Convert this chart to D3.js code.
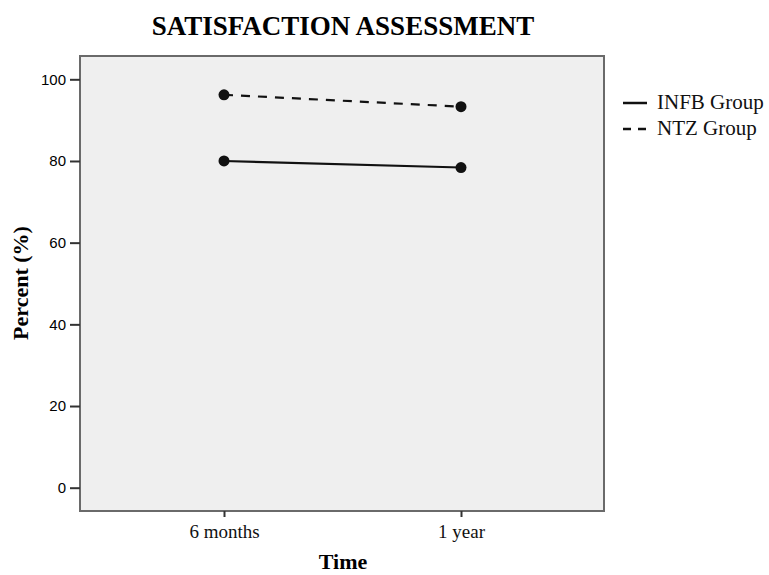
<!DOCTYPE html>
<html>
<head>
<meta charset="utf-8">
<script src="https://cdn.jsdelivr.net/npm/d3@7"></script>
<style>
  body { margin: 0; background: #fff; }
  svg { display: block; }
</style>
</head>
<body>
<svg id="chart" width="769" height="575"></svg>
<script>
// data
var timePoints = ["6 months", "1 year"];
var seriesNames = ["INFB Group", "NTZ Group"];
var infbValues = [80.0, 78.4];
var ntzValues = [96.2, 93.3];
var yTicks = [0, 20, 40, 60, 80, 100];

var chart = {};
chart.margins = { top: 56, left: 80, right: 165, bottom: 64 };
chart.width = 769 - chart.margins.left - chart.margins.right;
chart.height = 575 - chart.margins.top - chart.margins.bottom;

var svg = d3.select("#chart");
var g = svg.append("g")
    .attr("transform", `translate(${chart.margins.left}, ${chart.margins.top})`);

// scales
var x = d3.scalePoint().domain(timePoints).range([144, 381]);
var y = d3.scaleLinear().domain([0, 100]).range([431.7, 23.3]);

// plot background
g.append("rect")
    .attr("x", 0).attr("y", 0)
    .attr("width", chart.width).attr("height", chart.height)
    .style("fill", "#efefef")
    .style("stroke", "#6a6a6a")
    .style("stroke-width", 2);

// y axis
var yAxis = g.append("g")
    .call(d3.axisLeft(y).tickValues(yTicks).tickSize(10).tickPadding(4).tickSizeOuter(0));
yAxis.select(".domain").remove();
yAxis.selectAll("line").style("stroke", "#333").style("stroke-width", 2);
yAxis.selectAll("text")
    .attr("font-family", "'Liberation Sans', Arial, sans-serif")
    .attr("font-size", 15)
    .style("font-family", "'Liberation Sans', Arial, sans-serif")
    .style("font-size", "15px")
    .style("fill", "#000");

// x axis
var xAxis = g.append("g")
    .attr("transform", `translate(0, ${chart.height})`)
    .call(d3.axisBottom(x).tickSize(6).tickPadding(8).tickSizeOuter(0));
xAxis.select(".domain").remove();
xAxis.selectAll("line").style("stroke", "#333").style("stroke-width", 2);
xAxis.selectAll("text")
    .style("font-family", "'Liberation Serif', 'Times New Roman', serif")
    .style("font-size", "19px")
    .style("fill", "#111");

// lines + points
var series = [
    { name: seriesNames[0], values: infbValues, dash: null },
    { name: seriesNames[1], values: ntzValues, dash: "9,8" }
];
var line = d3.line()
    .x((d, i) => x(timePoints[i]))
    .y((d) => y(d));

series.forEach((s) => {
    g.append("path")
        .datum(s.values)
        .attr("d", line)
        .style("fill", "none")
        .style("stroke", "#111")
        .style("stroke-width", 2.2)
        .style("stroke-dasharray", s.dash);
    g.selectAll(null)
        .data(s.values)
        .enter()
        .append("circle")
        .attr("cx", (d, i) => x(timePoints[i]))
        .attr("cy", (d) => y(d))
        .attr("r", 5.5)
        .style("fill", "#111");
});

// title
svg.append("text")
    .attr("x", 343).attr("y", 35)
    .attr("text-anchor", "middle")
    .style("font-family", "'Liberation Serif', 'Times New Roman', serif")
    .style("font-weight", "bold")
    .style("font-size", "27px")
    .text("SATISFACTION ASSESSMENT");

// axis titles
svg.append("text")
    .attr("x", 343).attr("y", 569)
    .attr("text-anchor", "middle")
    .style("font-family", "'Liberation Serif', 'Times New Roman', serif")
    .style("font-weight", "bold")
    .style("font-size", "22px")
    .text("Time");

svg.append("text")
    .attr("transform", "translate(28, 283) rotate(-90)")
    .attr("text-anchor", "middle")
    .style("font-family", "'Liberation Serif', 'Times New Roman', serif")
    .style("font-weight", "bold")
    .style("font-size", "22px")
    .text("Percent (%)");

// legend
var legend = svg.append("g").attr("transform", "translate(623, 103)");
series.forEach((s, i) => {
    var row = legend.append("g").attr("transform", `translate(0, ${i * 26})`);
    row.append("line")
        .attr("x1", 0).attr("x2", 24)
        .attr("y1", 0).attr("y2", 0)
        .style("stroke", "#111")
        .style("stroke-width", 2.5)
        .style("stroke-dasharray", s.dash ? "8,7" : null);
    row.append("text")
        .attr("x", 34).attr("y", 6)
        .style("font-family", "'Liberation Serif', 'Times New Roman', serif")
        .style("font-size", "21px")
        .style("fill", "#111")
        .text(s.name);
});
</script>
</body>
</html>
